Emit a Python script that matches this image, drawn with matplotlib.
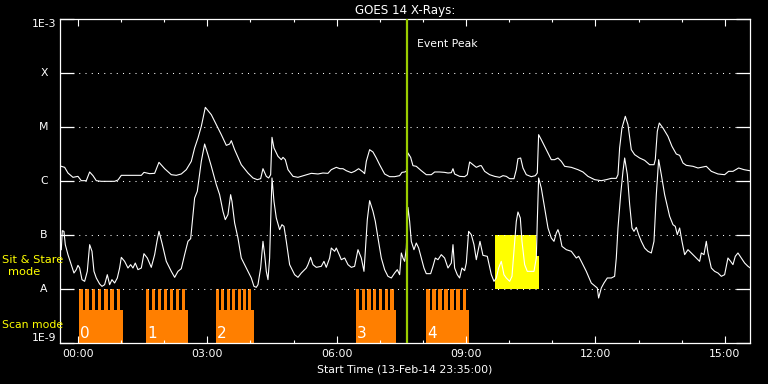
import numpy as np
import matplotlib
matplotlib.use("Agg")
import matplotlib.pyplot as plt
from matplotlib.ticker import FixedLocator, MultipleLocator, NullLocator, FuncFormatter

# ---------------- data (hours after 14-Feb 00:00, log10 flux W/m^2) ----------------
long_hours = [-0.387, -0.309, -0.232, -0.116, 0.0, 0.077, 0.193, 0.271, 0.348, 0.425,
              0.541, 0.696, 0.850, 0.928, 1.005, 1.159, 1.314, 1.469, 1.530, 1.662,
              1.778, 1.878, 2.010, 2.164, 2.280, 2.396, 2.512, 2.628, 2.705, 2.783,
              2.860, 2.953, 3.092, 3.208, 3.324, 3.440, 3.517, 3.556, 3.633, 3.787,
              3.942, 4.058, 4.158, 4.236, 4.290, 4.367, 4.421, 4.468, 4.499, 4.545,
              4.638, 4.715, 4.754, 4.808, 4.870, 4.986, 5.101, 5.256, 5.411, 5.565,
              5.681, 5.797, 5.874, 5.990, 6.075,
              6.145, 6.222, 6.338, 6.415, 6.508, 6.609, 6.647, 6.686, 6.763, 6.841,
              6.918, 6.995, 7.111, 7.227, 7.343, 7.459, 7.513, 7.575, 7.614, 7.652,
              7.714, 7.768, 7.845, 7.961, 8.077, 8.193, 8.271, 8.386, 8.502, 8.580,
              8.657, 8.696, 8.734, 8.850, 8.966, 9.028, 9.082, 9.159, 9.237, 9.322,
              9.353, 9.430, 9.546, 9.662, 9.778, 9.855, 9.932, 10.010, 10.110, 10.164,
              10.203, 10.265, 10.319, 10.396, 10.512, 10.605, 10.651, 10.682, 10.744, 10.821,
              10.899, 10.976, 11.053, 11.130, 11.208, 11.285, 11.440, 11.594, 11.710, 11.826,
              11.981, 12.135, 12.251, 12.367, 12.483, 12.522,
              12.560, 12.614, 12.692, 12.754, 12.831, 12.908, 13.024, 13.140, 13.256, 13.357,
              13.387, 13.434, 13.480, 13.565, 13.681, 13.774, 13.874, 13.952, 14.029, 14.106,
              14.261, 14.377, 14.454, 14.570, 14.686, 14.841, 14.995, 15.088, 15.188, 15.320,
              15.443, 15.575]
long_log = [-5.728, -5.747, -5.852, -5.932, -5.914, -5.994, -5.994, -5.833, -5.901, -5.994,
            -6.006, -6.006, -6.006, -5.981, -5.895, -5.895, -5.895, -5.895, -5.840, -5.864,
            -5.858, -5.654, -5.772, -5.883, -5.895, -5.870, -5.790, -5.636, -5.389, -5.204,
            -4.988, -4.636, -4.772, -4.957, -5.142, -5.340, -5.315, -5.253, -5.420, -5.698,
            -5.852, -5.944, -5.975, -5.957, -5.772, -5.914, -5.944, -5.883, -5.191, -5.389,
            -5.543, -5.605, -5.562, -5.605, -5.790, -5.914, -5.932, -5.895, -5.858, -5.870,
            -5.852, -5.858, -5.790, -5.747, -5.772,
            -5.772, -5.809, -5.846, -5.821, -5.772, -5.833, -5.864, -5.636, -5.420, -5.463,
            -5.574, -5.698, -5.870, -5.920, -5.920, -5.901, -5.840, -5.833, -5.821, -5.481,
            -5.562, -5.716, -5.728, -5.809, -5.883, -5.883, -5.833, -5.833, -5.840, -5.852,
            -5.846, -5.772, -5.870, -5.914, -5.920, -5.883, -5.648, -5.698, -5.747, -5.716,
            -5.716, -5.821, -5.883, -5.914, -5.932, -5.901, -5.914, -5.957, -5.957, -5.790,
            -5.586, -5.574, -5.759, -5.883, -5.920, -5.901, -5.852, -5.142, -5.235, -5.358,
            -5.481, -5.605, -5.605, -5.574, -5.636, -5.728, -5.747, -5.790, -5.833, -5.914,
            -5.975, -5.994, -5.975, -5.951, -5.951, -5.883,
            -5.389, -5.019, -4.802, -4.957, -5.420, -5.512, -5.574, -5.617, -5.698, -5.698,
            -5.605, -5.080, -4.926, -5.019, -5.173, -5.358, -5.500, -5.525, -5.667, -5.710,
            -5.728, -5.759, -5.747, -5.728, -5.821, -5.870, -5.883, -5.821, -5.821, -5.759,
            -5.790, -5.809]

short_hours = [-0.387, -0.363, -0.325, -0.294, -0.232, -0.155, -0.093, -0.039, 0.0, 0.039,
               0.093, 0.155, 0.216, 0.271, 0.325, 0.371, 0.425, 0.502, 0.557, 0.618,
               0.680, 0.734, 0.788, 0.850, 0.912, 0.966, 1.005, 1.082, 1.159, 1.221,
               1.275, 1.329, 1.391, 1.469, 1.530, 1.608, 1.700, 1.778, 1.832, 1.878,
               1.948, 2.048, 2.164, 2.242, 2.319, 2.396, 2.473, 2.551, 2.613, 2.667,
               2.705, 2.767,
               2.860, 2.937, 3.014, 3.092, 3.208, 3.285, 3.362, 3.416, 3.478, 3.540,
               3.571, 3.633, 3.710, 3.787, 3.865, 3.942, 4.019, 4.081, 4.135, 4.174,
               4.236, 4.290, 4.329, 4.367, 4.406, 4.444, 4.468, 4.499, 4.545, 4.599,
               4.676, 4.730, 4.777, 4.831, 4.908, 5.024, 5.101, 5.179, 5.295, 5.333,
               5.395, 5.449, 5.526, 5.642, 5.704, 5.758, 5.836, 5.874, 5.952, 5.990,
               6.075,
               6.106, 6.184, 6.261, 6.338, 6.415, 6.493, 6.570, 6.632, 6.663, 6.709,
               6.763, 6.841, 6.895, 6.957, 7.034, 7.111, 7.188, 7.266, 7.343, 7.405,
               7.459, 7.498, 7.536, 7.575, 7.614, 7.652, 7.691, 7.729, 7.791, 7.845,
               7.900, 7.961, 8.023, 8.077, 8.178, 8.232, 8.286, 8.348, 8.425, 8.502,
               8.580, 8.657, 8.696, 8.734, 8.796, 8.850, 8.904, 8.966, 9.005, 9.059,
               9.121, 9.183, 9.237, 9.322,
               9.391, 9.492, 9.585, 9.647, 9.700, 9.755, 9.816, 9.878, 9.932, 10.010,
               10.064, 10.110, 10.164, 10.203, 10.257, 10.296, 10.358, 10.419, 10.512, 10.574,
               10.628, 10.651, 10.682, 10.744, 10.821, 10.899, 10.976, 11.038, 11.092, 11.130,
               11.169, 11.223, 11.324, 11.440, 11.556, 11.610, 11.671, 11.787, 11.903, 11.996,
               12.042, 12.073, 12.135, 12.197, 12.274, 12.367, 12.444, 12.483, 12.522,
               12.584, 12.638, 12.677, 12.739, 12.793, 12.847, 12.893, 12.947, 13.002, 13.063,
               13.140, 13.217, 13.295, 13.357, 13.411, 13.465, 13.527, 13.604, 13.720, 13.797,
               13.851, 13.898, 13.952, 14.006, 14.068, 14.145, 14.222, 14.338, 14.415, 14.454,
               14.516, 14.570, 14.609, 14.686, 14.763, 14.841, 14.918, 14.995, 15.072, 15.134,
               15.188, 15.242, 15.304, 15.381, 15.459, 15.536, 15.590]
short_log = [-7.272, -6.920, -6.932, -7.179, -7.364, -7.549, -7.704, -7.642, -7.562, -7.611,
             -7.827, -7.858, -7.673, -7.179, -7.302, -7.673, -7.796, -7.907, -7.951, -7.920,
             -7.735, -7.920, -7.827, -7.889, -7.796, -7.611, -7.414, -7.488, -7.611, -7.549,
             -7.611, -7.519, -7.642, -7.611, -7.346, -7.426, -7.599, -7.364, -7.117, -6.932,
             -7.148, -7.488, -7.673, -7.784, -7.673, -7.623, -7.364, -7.117, -7.068, -6.623,
             -6.315, -6.191,
             -5.636, -5.315, -5.512, -5.728, -6.068, -6.253, -6.562, -6.716, -6.623, -6.253,
             -6.377, -6.778, -7.056, -7.426, -7.549, -7.673, -7.796, -7.951, -7.969, -7.920,
             -7.611, -7.117, -7.364, -7.673, -7.827, -7.426, -6.747, -5.944, -6.377, -6.685,
             -6.901, -6.809, -6.840, -7.117, -7.549, -7.735, -7.784, -7.704, -7.611, -7.549,
             -7.414, -7.549, -7.599, -7.580, -7.488, -7.599, -7.426, -7.241, -7.302, -7.241,
             -7.395,
             -7.457, -7.426, -7.549, -7.599, -7.580, -7.272, -7.426, -7.673, -7.302, -6.716,
             -6.364, -6.562, -6.747, -7.056, -7.426, -7.642, -7.765, -7.796, -7.704, -7.642,
             -7.735, -7.333, -7.426, -7.488, -7.241, -6.488, -6.747, -7.117, -7.272, -7.148,
             -7.241, -7.426, -7.611, -7.716, -7.716, -7.580, -7.426, -7.457, -7.364, -7.426,
             -7.611, -7.519, -7.179, -7.611, -7.735, -7.796, -7.611, -7.660, -7.519, -6.932,
             -6.994, -7.179, -7.457, -7.117,
             -7.377, -7.395, -7.735, -7.858, -7.796, -7.611, -7.488, -7.735, -7.796, -7.858,
             -7.765, -7.302, -6.747, -6.574, -6.685, -7.117, -7.549, -7.673, -7.673, -7.673,
             -7.426, -6.747, -5.944, -6.130, -6.500, -6.870, -7.056, -7.117, -6.963, -6.901,
             -6.994, -7.210, -7.272, -7.302, -7.426, -7.395, -7.488, -7.673, -7.889, -7.951,
             -7.981, -8.167, -7.981, -7.889, -7.796, -7.796, -7.765, -7.426, -6.870,
             -6.253, -5.821, -5.574, -5.883, -6.438, -6.870, -6.932, -6.858, -6.994, -7.117,
             -7.241, -7.302, -7.333, -7.117, -6.253, -5.605, -5.883, -6.253, -6.654, -6.809,
             -6.840, -6.994, -6.870, -7.117, -7.364, -7.272, -7.333, -7.426, -7.488, -7.333,
             -7.364, -7.117, -7.333, -7.611, -7.673, -7.704, -7.765, -7.735, -7.426, -7.488,
             -7.549, -7.395, -7.333, -7.426, -7.519, -7.580, -7.611]

# observing modes
scan_start = [0.023, 1.577, 3.200, 6.446, 8.070]
scan_end = [1.043, 2.544, 4.074, 7.374, 9.060]
scan_labels = ["0", "1", "2", "3", "4"]
rasters_per_scan = 7
scan_base_log = -8.389          # top of solid scan block
sit_stare_start = 9.675
sit_stare_end = 10.61
sit_stare_tail_end = 10.69
sit_stare_tail_log = -7.389
event_peak = 7.622

class_levels = [1e-9, 1e-8, 1e-7, 1e-6, 1e-5, 1e-4, 1e-3]
class_labels = ["1E-9", "A", "B", "C", "M", "X", "1E-3"]
x_start = -25.0 / 60.0
x_end = x_start + 16.0
x_major = [0, 3, 6, 9, 12, 15]

# ---------------- figure ----------------
W, H = 768, 384
fig = plt.figure(figsize=(W / 100, H / 100), dpi=100, facecolor="black")
ax = fig.add_axes([60 / W, 41 / H, 690 / W, 324 / H], facecolor="black")
ax.set_yscale("log")
ax.set_xlim(x_start, x_end)
ax.set_ylim(1e-9, 1e-3)

orange = "#FF7F00"
yellow = "#FFFF00"
fs = 7.8

# scan blocks
base = 10 ** scan_base_log
for s, e, lab in zip(scan_start, scan_end, scan_labels):
    d = e - s
    ax.bar(s, base - 1e-9, width=d, bottom=1e-9, align="edge", color=orange,
           linewidth=0, zorder=1)
    p = d / rasters_per_scan
    tooth_x = [s + i * p for i in range(rasters_per_scan)]
    ax.bar(tooth_x, [1e-8 - base] * rasters_per_scan, width=0.58 * p, bottom=base,
           align="edge", color=orange, linewidth=0, zorder=1)
    ax.text(s + 0.02, 0.0154, lab, transform=ax.get_xaxis_transform(), color="white",
            fontsize=11, ha="left", va="baseline", zorder=4)

# sit & stare box
ax.bar(sit_stare_start, 1e-7 - 1e-8, width=sit_stare_end - sit_stare_start, bottom=1e-8,
       align="edge", color=yellow, linewidth=0, zorder=1)
ax.bar(sit_stare_end, 10 ** sit_stare_tail_log - 1e-8, width=sit_stare_tail_end - sit_stare_end,
       bottom=1e-8, align="edge", color=yellow, linewidth=0, zorder=1)

# grid
for lv in class_levels[1:-1]:
    ax.axhline(lv, color="white", lw=0.75, ls=(0, (1, 5)), zorder=1.5)

# curves
ax.plot(long_hours, 10 ** np.array(long_log), color="white", lw=0.8, zorder=2)
ax.plot(short_hours, 10 ** np.array(short_log), color="white", lw=0.8, zorder=2)

# event peak
ax.axvline(event_peak, color="#9ACD00", lw=1.6, zorder=3)
ax.text(event_peak + 0.24, (343 - 47) / 324, "Event Peak", transform=ax.get_xaxis_transform(),
        color="white", fontsize=fs, ha="left", va="baseline")

# axes styling
for sp in ax.spines.values():
    sp.set_color("white")
    sp.set_linewidth(0.9)

ax.xaxis.set_major_locator(FixedLocator(x_major))
ax.xaxis.set_minor_locator(MultipleLocator(1))
ax.xaxis.set_major_formatter(FuncFormatter(lambda v, p: "%02d:00" % int(round(v))))
ax.tick_params(axis="x", which="major", direction="in", length=5, width=0.8, top=True,
               colors="white", labelsize=fs, pad=4.5)
ax.tick_params(axis="x", which="minor", direction="in", length=2.5, width=0.8, top=True,
               colors="white")

ax.yaxis.set_major_locator(FixedLocator(class_levels))
ax.yaxis.set_minor_locator(NullLocator())
ax.set_yticklabels(class_labels)
ax.tick_params(axis="y", which="major", direction="in", length=10, width=0.9, right=True,
               colors="white", labelsize=fs, pad=11.5)
for lab in ax.get_yticklabels():
    lab.set_horizontalalignment("center")
    t = lab.get_text()
    if t == "1E-3":
        lab.set_verticalalignment("top")
    elif t == "1E-9":
        lab.set_verticalalignment("bottom")
    else:
        lab.set_verticalalignment("center")

ax.text(0.5, (343 - 14) / 324, "GOES 14 X-Rays:", transform=ax.transAxes, color="white",
        fontsize=8.6, ha="center", va="baseline")
ax.text(0.5, (343 - 372) / 324, "Start Time (13-Feb-14 23:35:00)", transform=ax.transAxes,
        color="white", fontsize=fs, ha="center", va="baseline")

fig.text(2 / W, (H - 263) / H, "Sit & Stare", color=yellow, fontsize=8.2, ha="left", va="baseline")
fig.text(24.5 / W, (H - 275) / H, "mode", color=yellow, fontsize=8.2, ha="center", va="baseline")
fig.text(2 / W, (H - 328) / H, "Scan mode", color=yellow, fontsize=fs, ha="left", va="baseline")

fig.savefig("out.png", dpi=100, facecolor="black")
